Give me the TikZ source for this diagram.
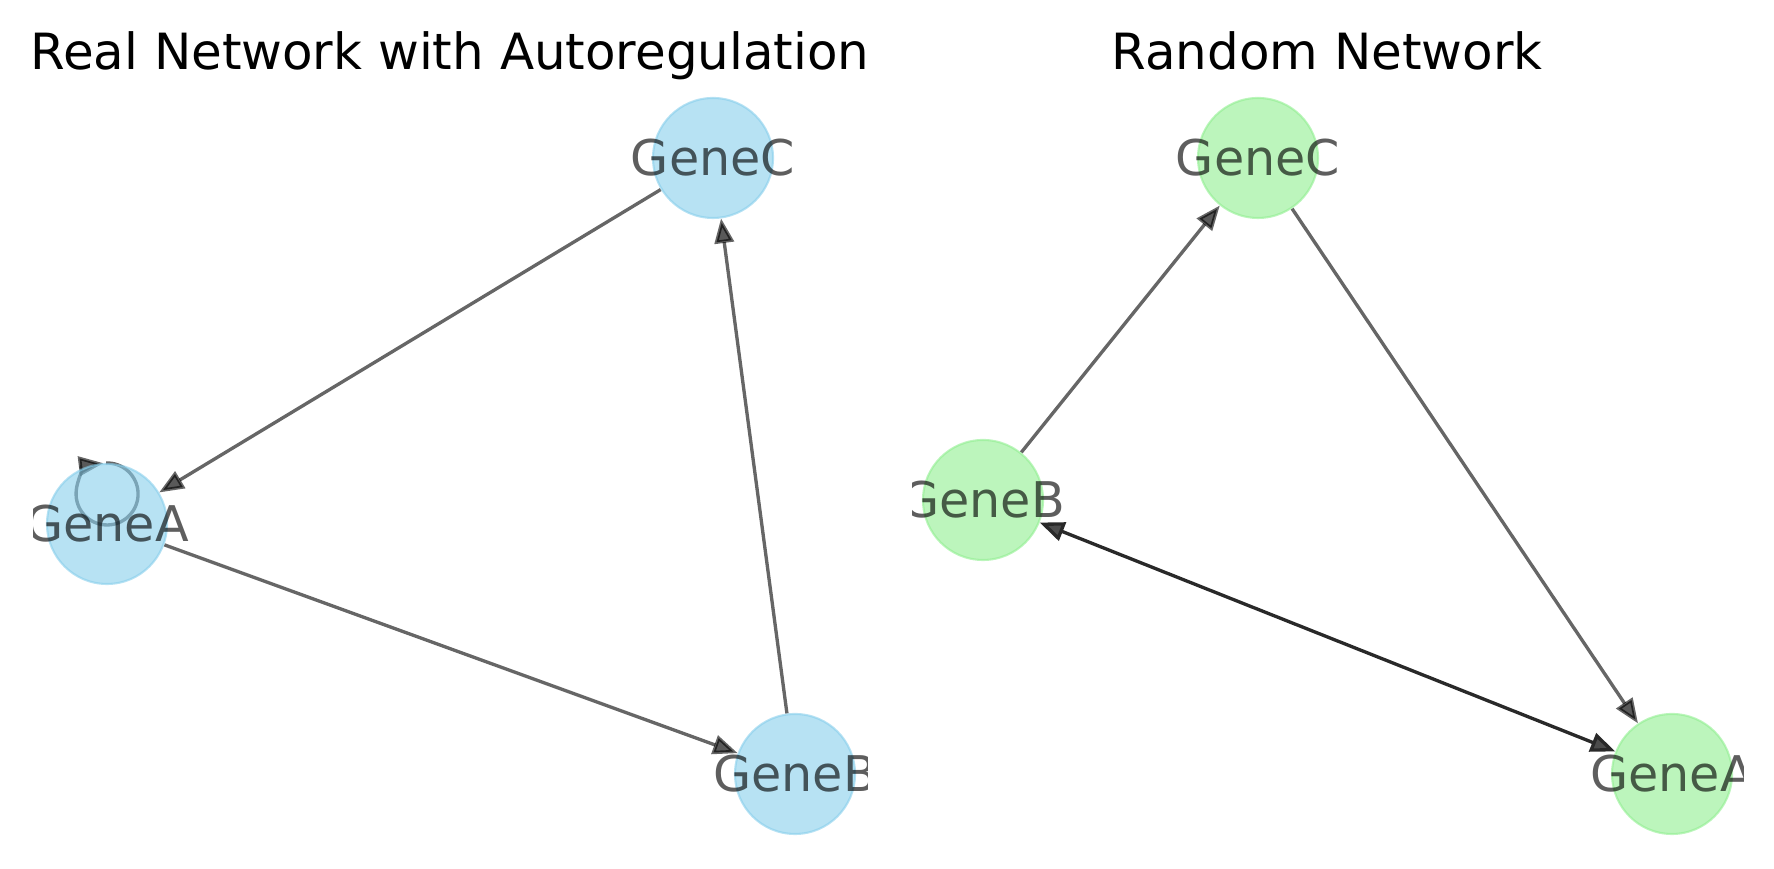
\documentclass[tikz,border=0pt]{standalone}
\usepackage{fontspec}
\setmainfont{DejaVu Sans}
\usetikzlibrary{arrows.meta,backgrounds}
\definecolor{realfill}{RGB}{135,206,235}
\definecolor{randfill}{RGB}{144,238,144}
\tikzset{
  gene/.style={circle,minimum size=12mm,inner sep=0pt,fill opacity=.6,
               draw opacity=.6,line width=.6pt},
  realgene/.style={gene,fill=realfill,draw=realfill},
  randgene/.style={gene,fill=randfill,draw=randfill},
  genelabel/.style={font=\fontsize{14}{17}\selectfont,text=black,
                    text opacity=.63,inner sep=0pt},
  paneltitle/.style={font=\fontsize{14.2}{17}\selectfont,inner sep=0pt},
  reg/.style={draw=black,draw opacity=.6,line width=.95pt,
              -{Triangle[length=7pt,width=5.5pt,fill=black!65]}},
  mutual/.style={draw=black!84,line width=.95pt,
              {Triangle[length=7pt,width=5.5pt,fill=black!70]}-{Triangle[length=7pt,width=5.5pt,fill=black!70]}},
}

\begin{document}
\begin{tikzpicture}[x=0.1mm,y=0.1mm]
  \useasboundingbox (0,0) rectangle (1774,869);
  % panel titles
  \node[paneltitle,anchor=base] (realtitle) at (450,799) {Real Network with Autoregulation};
  \node[paneltitle,anchor=base] (randtitle) at (1327,799) {Random Network};
  % real network
  \begin{scope}
    \clip (33,0) rectangle (867,869);
    \foreach \g/\x/\y in {A/107/345,B/795/95,C/713/711}{
      \node[realgene] (r\g) at (\x,\y) {};
      \node[genelabel] (r\g-lab) at (r\g.center) {Gene\g};
    }
  \end{scope}
  % random network
  \begin{scope}
    \clip (912,0) rectangle (1743,869);
    \foreach \g/\x/\y in {A/1672/95,B/983/369,C/1258/711}{
      \node[randgene] (n\g) at (\x,\y) {};
      \node[genelabel] (n\g-lab) at (n\g.center) {Gene\g};
    }
  \end{scope}
  % interactions, under the nodes
  \begin{pgfonlayer}{background}
    \draw[reg] (rC) -- (rA);
    \draw[reg] (rA) -- (rB);
    \draw[reg] (rB) -- (rC);
    \draw[reg] ([shift={(-1,61)}]rA.center) arc[start angle=452,end angle=97,radius=31];
    \draw[reg] (nB) -- (nC);
    \draw[reg] (nC) -- (nA);
    \draw[mutual] (nB) -- (nA);
  \end{pgfonlayer}
\end{tikzpicture}
\end{document}
